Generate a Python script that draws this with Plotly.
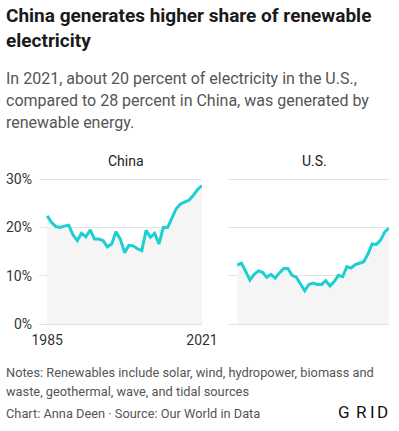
import plotly.graph_objects as go

years = list(range(1985, 2022))
china = [22.4, 21.1, 20.2, 20.0, 20.3, 20.5, 18.5, 17.3, 18.8, 18.1, 19.5, 17.6, 17.6, 17.3,
         16.0, 16.6, 19.1, 17.6, 14.8, 16.3, 16.2, 15.6, 15.2, 19.4, 18.0, 18.8, 16.6, 20.0,
         20.0, 22.1, 23.9, 24.9, 25.3, 25.7, 26.7, 27.9, 28.7]
us = [12.2, 12.6, 10.9, 9.1, 10.3, 11.0, 10.7, 9.7, 10.3, 9.5, 10.6, 11.5, 11.5, 10.1,
      9.7, 8.4, 6.9, 8.2, 8.5, 8.2, 8.2, 9.0, 7.9, 8.8, 10.1, 9.8, 11.9, 11.6, 12.3,
      12.6, 12.9, 14.5, 16.6, 16.5, 17.4, 19.1, 19.9]
y_ticks = [0, 10, 20, 30]
y_ticklabels = ["0%", "10%", "20%", "30%"]
x_ticks = [1985, 2021]
x_ticklabels = ["1985", "2021"]
panel_titles = ["China", "U.S."]

W, H = 399, 431
LINE = "#1ccfd2"
FILL = "#f5f5f5"
GRIDC = "#e3e3e3"
FONT = "Roboto"

def py(ypx):
    return (H - ypx) / H

def px(xpx):
    return xpx / W

fig = go.Figure()
for i, (vals, xa, ya) in enumerate([(china, "x", "y"), (us, "x2", "y2")]):
    fig.add_trace(go.Scatter(x=years, y=vals, xaxis=xa, yaxis=ya, mode="lines",
                             line=dict(color=LINE, width=3), fill="tozeroy",
                             fillcolor=FILL, hoverinfo="skip", cliponaxis=False,
                             showlegend=False))

# 10% = 48.23 px; pad range by 0.3 so the 0% and 30% gridlines are drawn
ydom = [py(325.45), py(177.85)]
common_y = dict(range=[-0.3, 30.3], tickvals=y_ticks, ticktext=y_ticklabels, showgrid=True,
                gridcolor=GRIDC, gridwidth=1, zeroline=False, showline=False, ticks="",
                tickfont=dict(family=FONT, size=14, color="#333"), domain=ydom,
                fixedrange=True, automargin=False)
fig.update_layout(
    width=W, height=H, margin=dict(l=0, r=0, t=0, b=0, autoexpand=False),
    paper_bgcolor="white", plot_bgcolor="white",
    xaxis=dict(domain=[px(39), px(202)], range=[1983.1, 2021.0], tickvals=x_ticks,
               ticktext=x_ticklabels, showgrid=False, zeroline=False, showline=False,
               ticks="", tickfont=dict(family=FONT, size=14, color="#333"),
               ticklabelstandoff=5, automargin=False, fixedrange=True),
    xaxis2=dict(domain=[px(228), px(389)], range=[1982.8, 2021.0], showticklabels=False,
                showgrid=False, zeroline=False, showline=False, ticks="", automargin=False,
                fixedrange=True),
    yaxis=dict(**common_y, ticklabelstandoff=6),
    yaxis2=dict(**{**common_y, "showticklabels": False}, anchor="x2"),
)

def ann(text, xpx, base, size, color, bold=False, xanchor="left"):
    t = f"<b>{text}</b>" if bold else text
    fig.add_annotation(text=t, x=px(xpx), y=py(base - 0.35 * size), xref="paper", yref="paper",
                       xanchor=xanchor, yanchor="middle", showarrow=False,
                       font=dict(family=FONT, size=size, color=color))

ann("China generates higher share of renewable", 4, 22, 19, "#1a1a1a", bold=True)
ann("electricity", 4, 46.7, 19, "#1a1a1a", bold=True)
ann("In 2021, about 20 percent of electricity in the U.S.,", 4, 84, 16, "#555555")
ann("compared to 28 percent in China, was generated by", 4, 106, 16, "#555555")
ann("renewable energy.", 4, 128, 16, "#555555")
ann(panel_titles[0], 126, 165.7, 14, "#222222", xanchor="center")
ann(panel_titles[1], 314, 165.7, 14, "#222222", xanchor="center")
ann("Notes: Renewables include solar, wind, hydropower, biomass and", 4, 376.7, 12.8, "#555555")
ann("waste, geothermal, wave, and tidal sources", 4, 396, 12.8, "#555555")
ann("Chart: Anna Deen · Source: Our World in Data", 4, 418, 12.8, "#555555")
for letter, xc in zip("GRID", [344, 361, 372.5, 382.5]):
    ann(letter, xc, 418, 17, "#111111", xanchor="center")

fig.write_html("out.html", config={"displayModeBar": False, "staticPlot": True},
               post_script="document.body.style.margin='0';")
